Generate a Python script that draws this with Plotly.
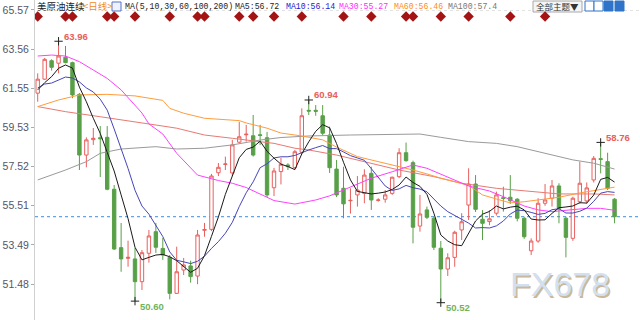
import plotly.graph_objects as go

# ---------------- data ----------------
candle_idx = list(range(84))
open_ = [61.29, 62.01, 62.96, 62.83, 63.14, 62.86, 61.23, 58.11, 58.90, 59.00,
         59.02, 56.35, 53.35, 52.80, 52.77, 51.60, 53.06, 54.17, 53.31, 52.85,
         51.00, 52.20, 52.41, 51.89, 54.24, 54.29, 57.20, 57.63, 57.19, 58.77,
         59.15, 59.10, 59.15, 59.00, 56.43, 57.26, 57.60, 57.46, 58.25, 60.41,
         60.41, 60.13, 59.14, 57.39, 56.40, 55.76, 56.06, 56.14, 57.17, 55.78,
         55.84, 56.14, 57.00, 58.23, 57.72, 54.46, 55.29, 54.86, 53.32, 52.25,
         52.85, 54.26, 55.54, 56.62, 54.81, 54.69, 55.12, 55.92, 55.94, 55.84,
         54.86, 53.19, 53.69, 55.63, 55.89, 56.52, 54.86, 53.83, 55.71, 55.75,
         56.83, 57.92, 57.77, 55.84]
high = [62.31, 63.10, 63.03, 63.96, 63.72, 62.91, 61.30, 59.02, 59.50, 59.60,
        59.60, 56.57, 54.62, 53.71, 53.33, 53.23, 54.26, 54.62, 53.85, 52.97,
        53.40, 52.82, 52.68, 54.26, 54.62, 57.14, 57.70, 58.03, 58.89, 59.82,
        59.66, 60.17, 59.66, 59.30, 57.45, 57.96, 57.69, 58.37, 60.51, 60.94,
        60.68, 60.68, 59.57, 57.86, 57.51, 56.40, 57.03, 57.38, 57.51, 55.89,
        56.31, 57.00, 58.46, 58.75, 57.82, 56.06, 55.46, 54.94, 53.69, 53.06,
        54.22, 55.12, 57.43, 57.08, 55.28, 55.28, 56.23, 56.48, 57.08, 55.89,
        54.94, 53.83, 55.89, 56.62, 56.83, 56.66, 54.94, 55.97, 57.77, 56.70,
        58.06, 58.76, 58.23, 55.90]
low = [60.85, 61.97, 62.45, 62.31, 62.83, 61.03, 57.34, 57.48, 58.63, 56.98,
       56.30, 53.23, 52.11, 52.37, 50.60, 51.17, 52.58, 53.08, 52.72, 50.69,
       50.97, 51.94, 51.55, 51.47, 53.91, 54.20, 57.03, 57.34, 57.03, 58.71,
       58.80, 58.03, 58.63, 55.95, 56.00, 56.60, 57.34, 57.39, 58.16, 60.17,
       60.13, 59.14, 57.19, 55.95, 54.86, 55.10, 55.46, 55.63, 55.29, 55.71,
       55.66, 56.06, 56.92, 57.77, 53.57, 54.17, 54.82, 53.23, 50.52, 51.89,
       52.37, 53.74, 54.77, 55.18, 53.74, 54.50, 55.00, 55.20, 55.60, 54.70,
       53.80, 52.97, 53.60, 55.50, 55.46, 54.60, 52.85, 53.70, 55.60, 55.60,
       56.70, 57.17, 56.31, 54.60]
close = [62.01, 63.03, 62.62, 63.20, 62.86, 61.20, 58.11, 58.89, 58.97, 58.95,
         56.35, 53.28, 52.77, 52.85, 51.60, 53.09, 53.95, 53.37, 52.97, 51.00,
         52.11, 52.46, 51.86, 54.00, 54.28, 57.03, 57.48, 57.65, 58.63, 59.05,
         59.18, 58.11, 59.12, 56.06, 57.29, 57.64, 57.51, 58.28, 60.13, 60.37,
         60.36, 59.23, 57.46, 56.06, 55.60, 55.78, 56.31, 57.08, 55.80, 55.80,
         56.06, 56.97, 58.23, 57.82, 54.40, 55.08, 54.91, 53.37, 52.25, 52.83,
         54.14, 54.68, 56.62, 55.32, 54.60, 54.83, 56.06, 55.88, 55.76, 54.86,
         53.91, 53.69, 55.63, 55.80, 56.52, 55.37, 53.88, 55.89, 56.66, 56.42,
         57.94, 57.89, 56.40, 54.94]

ma5 = [61.46, 61.83, 62.14, 62.57, 62.74, 62.58, 61.60, 60.85, 60.00, 59.22,
       58.25, 57.29, 56.06, 54.84, 53.37, 52.72, 52.85, 52.97, 53.00, 52.88,
       52.68, 52.38, 52.08, 52.29, 52.94, 53.93, 54.93, 56.09, 57.01, 57.97,
       58.40, 58.52, 58.82, 58.30, 57.95, 57.64, 57.52, 57.36, 58.17, 58.79,
       59.33, 59.67, 59.51, 58.70, 57.74, 56.83, 56.24, 56.17, 56.11, 56.15,
       56.21, 56.34, 56.57, 56.98, 56.70, 56.50, 56.09, 55.12, 54.00, 53.69,
       53.50, 53.45, 54.10, 54.72, 55.07, 55.21, 55.49, 55.34, 55.43, 55.48,
       55.29, 54.82, 54.77, 54.78, 55.11, 55.40, 55.44, 55.49, 55.66, 55.64,
       56.05, 56.86, 56.96, 56.72]
ma10 = [61.56, 61.76, 61.81, 61.97, 62.12, 62.07, 61.87, 61.56, 61.35, 60.98,
        60.42, 59.45, 58.46, 57.42, 56.30, 55.49, 55.07, 54.52, 53.92, 53.13,
        52.70, 52.62, 52.53, 52.65, 52.91, 53.31, 53.66, 54.09, 54.65, 55.46,
        56.17, 56.73, 57.46, 57.66, 57.96, 58.02, 58.02, 58.09, 58.24, 58.37,
        58.49, 58.60, 58.44, 58.44, 58.27, 58.08, 57.96, 57.84, 57.41, 56.95,
        56.52, 56.29, 56.37, 56.55, 56.43, 56.36, 56.22, 55.85, 55.49, 55.20,
        55.00, 54.77, 54.61, 54.36, 54.38, 54.36, 54.47, 54.72, 55.08, 55.28,
        55.25, 55.16, 55.06, 55.11, 55.30, 55.35, 55.13, 55.13, 55.22, 55.38,
        55.73, 56.15, 56.23, 56.19]
ma30_idx = [0, 2, 4, 6, 8, 10, 12, 15, 16, 18, 20, 22, 23, 26, 28, 30, 34, 37, 40,
            42, 45, 48, 51, 53, 54, 56, 58, 60, 62, 65, 67, 70, 72, 74, 77, 79, 81, 83]
ma30 = [63.20, 63.25, 63.20, 62.91, 62.48, 62.05, 61.46, 60.27, 59.71, 59.19,
        58.20, 57.43, 57.08, 56.80, 56.66, 56.44, 55.77, 55.59, 55.80, 56.01,
        56.47, 56.92, 57.25, 57.51, 57.60, 57.43, 57.14, 56.83, 56.52, 56.26,
        55.97, 55.49, 55.29, 55.20, 55.31, 55.37, 55.37, 55.27]
ma60_idx = [0, 3, 6, 10, 14, 18, 19, 21, 24, 29, 30, 33, 35, 38, 41, 43, 46, 50,
            52, 54, 56, 58, 62, 64, 66, 68, 70, 73, 75, 78, 81, 83]
ma60 = [60.60, 60.94, 61.20, 61.23, 61.15, 60.92, 60.51, 60.26, 60.00, 59.88,
        59.76, 59.49, 59.24, 59.09, 58.89, 58.52, 58.03, 57.69, 57.51, 57.34,
        57.14, 56.92, 56.55, 56.06, 55.85, 55.65, 55.71, 55.84, 55.94, 56.16,
        56.35, 56.46]
ma100_idx = [0, 4, 7, 9, 12, 17, 20, 24, 28, 32, 35, 39, 45, 52, 55, 58, 62, 66,
             69, 73, 77, 80, 83]
ma100 = [56.83, 57.34, 57.77, 58.20, 58.42, 58.54, 58.42, 58.46, 58.63, 58.88,
         59.01, 59.09, 59.14, 59.19, 59.19, 59.02, 58.80, 58.71, 58.54, 58.20,
         57.86, 57.69, 57.39]
ma200_idx = [0, 4, 9, 14, 18, 20, 24, 28, 34, 37, 39, 43, 47, 52, 57, 61, 66, 71,
             75, 80, 83]
ma200 = [60.60, 60.34, 60.08, 59.83, 59.60, 59.49, 59.14, 58.97, 58.71, 58.46,
         58.37, 58.11, 57.77, 57.34, 57.00, 56.66, 56.40, 56.23, 56.11, 56.11, 56.06]

tick_vals = [65.57, 63.56, 61.55, 59.53, 57.52, 55.51, 53.49, 51.48]
tick_text = ["65.57", "63.56", "61.55", "59.53", "57.52", "55.51", "53.49", "51.48"]

event_idx = [0, 4, 5, 10, 11, 14, 19, 23, 24, 29, 31, 34, 38, 44, 48, 53, 54, 58,
             62, 68, 73]
hi_idx = [3, 39, 81]
hi_val = [63.96, 60.94, 58.76]
lo_idx = [14, 58]
lo_val = [50.60, 50.52]

title_text = "美原油连续"
period_text = "<日线>"
ma_spec_text = "MA(5,10,30,60,100,200)"
ma_labels = ["MA5:56.72", "MA10:56.14", "MA30:55.27", "MA60:56.46", "MA100:57.4"]
theme_text = "全部主题▼"
watermark = "FX678"

# ---------------- styles / layout ----------------
W, H = 640, 320
ML = 35
EVENT_Y = 65.23
Y_RANGE = [49.63, 66.08]
X_RANGE = [-0.39, 86.66]

def px(x):
    return (x - ML) / (W - ML)

def py(y):
    return 1 - y / H

C_UP = "#e8605e"
C_DN = "#58a048"

fig = go.Figure()

fig.add_trace(go.Candlestick(
    x=candle_idx, open=open_, high=high, low=low, close=close,
    increasing=dict(line=dict(color=C_UP, width=1), fillcolor="white"),
    decreasing=dict(line=dict(color=C_DN, width=1), fillcolor=C_DN),
    whiskerwidth=0, showlegend=False, hoverinfo="skip"))

def line(xs, ys, color):
    fig.add_trace(go.Scatter(x=xs, y=ys, mode="lines",
                             line=dict(color=color, width=1),
                             showlegend=False, hoverinfo="skip"))

line(ma100_idx, ma100, "#9a9a9a")
line(ma200_idx, ma200, "#e87a72")
line(ma60_idx, ma60, "#ff9c3c")
line(ma30_idx, ma30, "#ff40ff")
line(candle_idx, ma10, "#4646b8")
line(candle_idx, ma5, "#1a1a1a")

# event diamonds
fig.add_trace(go.Scatter(x=event_idx, y=[EVENT_Y] * len(event_idx), mode="markers",
                         marker=dict(symbol="diamond", size=8, color="#a41414"),
                         showlegend=False, hoverinfo="skip"))
# extreme crosses
fig.add_trace(go.Scatter(x=hi_idx + lo_idx, y=hi_val + lo_val, mode="markers",
                         marker=dict(symbol="cross-thin", size=6,
                                     line=dict(color="#222", width=1)),
                         showlegend=False, hoverinfo="skip"))

ann = []
for i, v in zip(hi_idx, hi_val):
    ann.append(dict(x=i, y=v, xref="x", yref="y", text=f"{v:.2f}", showarrow=False,
                    xanchor="left", yanchor="middle", xshift=3, yshift=5,
                    font=dict(family="Liberation Sans", size=9.5, color="#e8605a",
                              weight="bold")))
for i, v in zip(lo_idx, lo_val):
    ann.append(dict(x=i, y=v, xref="x", yref="y", text=f"{v:.2f}", showarrow=False,
                    xanchor="left", yanchor="middle", xshift=3, yshift=-5,
                    font=dict(family="Liberation Sans", size=9.5, color="#72b35a",
                              weight="bold")))

HY = py(6.5)
def head(x, text, color, size=8.2, family="Liberation Mono"):
    ann.append(dict(x=px(x), y=HY, xref="paper", yref="paper", text=text,
                    showarrow=False, xanchor="left", yanchor="middle",
                    font=dict(family=family, size=size, color=color)))

head(35, title_text, "#222", size=9.5, family="Noto Sans CJK SC")
head(81, period_text.replace("<", "&lt;").replace(">", "&gt;"), "#f08a1c", size=9.5,
     family="Noto Sans CJK SC")
head(123, ma_spec_text, "#222")
ma_x = [233, 284, 337, 392, 446]
ma_c = ["#222", "#1a1acc", "#ff2cff", "#ff8c1a", "#777"]
for x, t, c in zip(ma_x, ma_labels, ma_c):
    head(x, t, c)

ann.append(dict(x=px(557.5), y=py(6.5), xref="paper", yref="paper", text=theme_text,
                showarrow=False, xanchor="center", yanchor="middle",
                font=dict(family="Noto Sans CJK SC", size=8.5, color="#333")))

# watermark (single text with a soft shadow)
ann.append(dict(x=px(560), y=py(284), xref="paper", yref="paper", text=watermark,
                showarrow=False, xanchor="center", yanchor="middle",
                font=dict(family="Liberation Sans", size=34, color="#d2e0f0",
                          shadow="1.5px 1.5px 0px #c9b89c")))

shapes = [
    dict(type="line", xref="paper", yref="y", x0=0, x1=1, y0=close[-1], y1=close[-1],
         line=dict(color="#3a8ee6", width=1, dash="3px,3px"), layer="below"),
    dict(type="line", xref="paper", yref="paper", x0=px(120), x1=1, y0=py(10.5),
         y1=py(10.5), line=dict(color="#e2e2e2", width=1, dash="dot"), layer="below"),
    # theme box
    dict(type="rect", xref="paper", yref="paper", x0=px(533), x1=px(582),
         y0=py(1), y1=py(12), line=dict(color="#a8a8a8", width=1), fillcolor="#f5f5f5",
         layer="below"),
    # small chart icon
    dict(type="rect", xref="paper", yref="paper", x0=px(112), x1=px(121),
         y0=py(2), y1=py(11), line=dict(color="#5472c8", width=1), fillcolor="#eef2ff"),
]
icon_fill = ["white", "white", "#2f74c8", "#2f74c8"]
icon_x = [585, 594, 604, 615]
for x, f in zip(icon_x, icon_fill):
    shapes.append(dict(type="rect", xref="paper", yref="paper", x0=px(x), x1=px(x + 9),
                       y0=py(1), y1=py(11), line=dict(color="#2f74c8", width=1),
                       fillcolor=f))

fig.update_layout(
    width=W, height=H, margin=dict(l=ML, r=0, t=0, b=0),
    paper_bgcolor="white", plot_bgcolor="white",
    xaxis=dict(range=X_RANGE, visible=False, rangeslider=dict(visible=False),
               showgrid=False, zeroline=False),
    yaxis=dict(range=Y_RANGE, tickvals=tick_vals, ticktext=tick_text,
               ticks="outside", ticklen=3, tickcolor="#aaa", showline=True,
               linecolor="#cfcfcf", linewidth=1, showgrid=False, zeroline=False,
               tickfont=dict(family="Liberation Sans", size=10.5, color="#556")),
    annotations=ann, shapes=shapes, showlegend=False,
)

fig.write_html("out.html", config={"displayModeBar": False})
